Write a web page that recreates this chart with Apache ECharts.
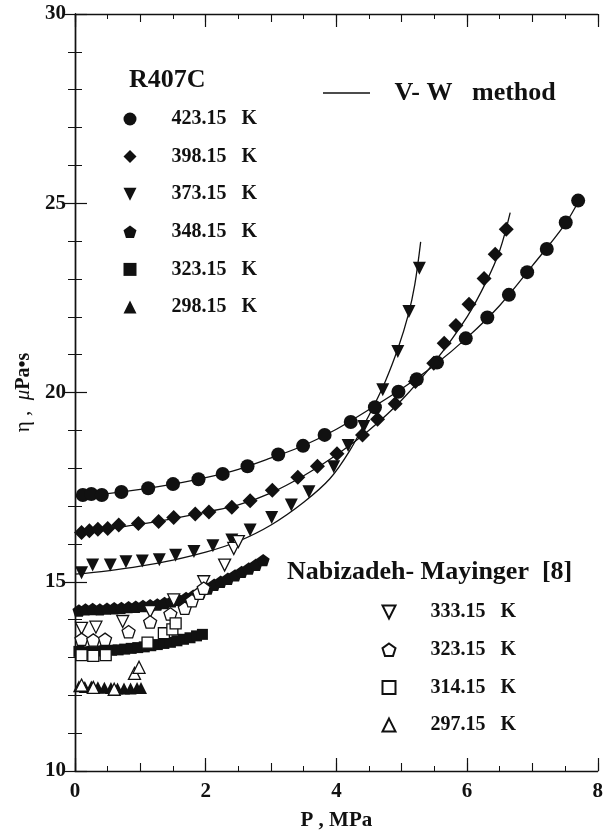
<!DOCTYPE html>
<html>
<head>
<meta charset="utf-8">
<script src="https://cdn.jsdelivr.net/npm/echarts@6/dist/echarts.min.js"></script>
<style>
html, body { margin: 0; padding: 0; background: #fff; }
#chart { width: 606px; height: 837px; }
</style>
</head>
<body>
<div id="chart"></div>
<script>
// Axis ticks
const xTickLabels = [0, 2, 4, 6, 8];
const yTickLabels = [10, 15, 20, 25, 30];

// R407C measurements (P in MPa, viscosity in µPa·s)
const p423 = [0.12, 0.25, 0.41, 0.71, 1.12, 1.50, 1.89, 2.26, 2.64, 3.11, 3.49, 3.82, 4.22, 4.59, 4.95, 5.23, 5.54, 5.98, 6.31, 6.64, 6.92, 7.22, 7.51, 7.70];
const eta423 = [17.29, 17.32, 17.29, 17.37, 17.47, 17.58, 17.71, 17.85, 18.05, 18.36, 18.59, 18.88, 19.22, 19.61, 20.02, 20.35, 20.79, 21.43, 21.98, 22.58, 23.18, 23.79, 24.49, 25.07];

const p398 = [0.10, 0.22, 0.35, 0.50, 0.67, 0.97, 1.28, 1.51, 1.84, 2.05, 2.40, 2.68, 3.02, 3.41, 3.71, 4.01, 4.40, 4.63, 4.90, 5.21, 5.49, 5.65, 5.83, 6.03, 6.26, 6.43, 6.60];
const eta398 = [16.30, 16.35, 16.39, 16.41, 16.50, 16.54, 16.59, 16.70, 16.79, 16.84, 16.97, 17.14, 17.42, 17.76, 18.05, 18.38, 18.88, 19.29, 19.70, 20.29, 20.77, 21.30, 21.77, 22.33, 23.01, 23.65, 24.31];

const p373 = [0.10, 0.27, 0.54, 0.78, 1.03, 1.29, 1.54, 1.82, 2.11, 2.40, 2.68, 3.01, 3.31, 3.58, 3.96, 4.18, 4.42, 4.71, 4.94, 5.11, 5.27];
const eta373 = [15.24, 15.44, 15.44, 15.53, 15.55, 15.58, 15.70, 15.80, 15.95, 16.10, 16.37, 16.70, 17.03, 17.38, 18.04, 18.60, 19.10, 20.07, 21.08, 22.14, 23.28];

const p348 = [0.06, 0.16, 0.27, 0.38, 0.49, 0.60, 0.71, 0.82, 0.93, 1.04, 1.15, 1.26, 1.37, 1.48, 1.59, 1.70, 1.81, 1.92, 2.03, 2.13, 2.23, 2.34, 2.45, 2.55, 2.66, 2.77, 2.88];
const eta348 = [14.24, 14.27, 14.28, 14.27, 14.29, 14.30, 14.31, 14.33, 14.34, 14.36, 14.38, 14.40, 14.44, 14.48, 14.52, 14.57, 14.63, 14.72, 14.82, 14.92, 15.00, 15.08, 15.17, 15.26, 15.35, 15.45, 15.57];

const p323 = [0.06, 0.16, 0.26, 0.36, 0.46, 0.56, 0.66, 0.76, 0.86, 0.96, 1.06, 1.16, 1.26, 1.36, 1.46, 1.56, 1.66, 1.76, 1.86, 1.95];
const eta323 = [13.16, 13.15, 13.16, 13.17, 13.18, 13.19, 13.20, 13.22, 13.24, 13.26, 13.28, 13.31, 13.34, 13.37, 13.40, 13.44, 13.48, 13.52, 13.57, 13.61];

const p298 = [0.06, 0.15, 0.25, 0.35, 0.45, 0.55, 0.65, 0.75, 0.85, 0.95, 1.01];
const eta298 = [12.24, 12.22, 12.23, 12.21, 12.20, 12.19, 12.18, 12.18, 12.18, 12.19, 12.19];

// Nabizadeh–Mayinger [8] data
const pNM333 = [0.10, 0.32, 0.73, 1.15, 1.51, 1.97, 2.29, 2.43, 2.50];
const etaNM333 = [13.77, 13.80, 13.95, 14.21, 14.52, 15.00, 15.44, 15.88, 16.06];

const pNM323 = [0.10, 0.28, 0.46, 0.82, 1.15, 1.46, 1.68, 1.79, 1.90, 1.97];
const etaNM323 = [13.48, 13.46, 13.48, 13.68, 13.94, 14.15, 14.30, 14.50, 14.70, 14.83];

const pNM314 = [0.10, 0.28, 0.47, 1.11, 1.36, 1.49, 1.54];
const etaNM314 = [13.06, 13.04, 13.06, 13.39, 13.64, 13.74, 13.90];

const pNM297 = [0.10, 0.28, 0.60, 0.91, 0.98];
const etaNM297 = [12.27, 12.21, 12.16, 12.58, 12.74];

// V-W method curves
const vwP423 = [0, 0.5, 1.0, 1.5, 2.0, 2.5, 3.0, 3.5, 4.0, 4.5, 5.0, 5.5, 6.0, 6.5, 7.0, 7.5, 7.72];
const vwEta423 = [17.25, 17.33, 17.44, 17.58, 17.75, 17.97, 18.27, 18.60, 19.03, 19.55, 20.10, 20.72, 21.45, 22.30, 23.35, 24.45, 25.10];

const vwP398 = [0, 0.5, 1.0, 1.5, 2.0, 2.5, 3.0, 3.5, 4.0, 4.5, 5.0, 5.5, 6.0, 6.3, 6.5, 6.66];
const vwEta398 = [16.28, 16.40, 16.52, 16.67, 16.84, 17.03, 17.35, 17.80, 18.35, 19.00, 19.80, 20.80, 22.00, 22.95, 23.75, 24.75];

const vwP373 = [0, 0.5, 1.0, 1.5, 2.0, 2.5, 3.0, 3.5, 3.9, 4.2, 4.5, 4.75, 4.95, 5.1, 5.2, 5.29];
const vwEta373 = [15.20, 15.29, 15.41, 15.57, 15.78, 16.07, 16.50, 17.10, 17.72, 18.45, 19.40, 20.30, 21.20, 22.05, 22.85, 23.98];

// Legend names (the second group carries a trailing space so that
// 323.15 K appears once per group)
const tempLabelsR407C = ['423.15   K', '398.15   K', '373.15   K', '348.15   K', '323.15   K', '298.15   K'];
const tempLabelsNM = ['333.15   K ', '323.15   K ', '314.15   K ', '297.15   K '];
const methodLabel = 'V- W   method';

const FONT = '"Liberation Serif", "Times New Roman", serif';
const INK = '#111';
const PENTAGON = 'path://M0,-1 L0.951,-0.309 L0.588,0.809 L-0.588,0.809 L-0.951,-0.309 Z';
const DOWN_TRIANGLE = 'path://M-1,-1 L1,-1 L0,1 Z';

function zip(xs, ys) { return xs.map((x, i) => [x, ys[i]]); }

function filled(name, xs, ys, symbol, size) {
  return {
    name, type: 'scatter', data: zip(xs, ys), symbol, symbolSize: size,
    symbolKeepAspect: true, z: 4,
    itemStyle: { color: INK, opacity: 1 }
  };
}
function open(name, xs, ys, symbol, size) {
  return {
    name, type: 'scatter', data: zip(xs, ys), symbol, symbolSize: size,
    symbolKeepAspect: true, z: 5,
    itemStyle: { color: '#fff', borderColor: INK, borderWidth: 1.3, opacity: 1 }
  };
}
function curve(xs, ys) {
  return {
    name: methodLabel, type: 'line', data: zip(xs, ys), symbol: 'none', showSymbol: false,
    smooth: 0.35, z: 3, lineStyle: { color: INK, width: 1.3 }, itemStyle: { color: INK }
  };
}

const labelFont = { fontFamily: FONT, fontWeight: 'bold', color: INK };
const gap = '      ';

const legendBase = {
  orient: 'vertical', padding: 0, selectedMode: false,
  itemWidth: 13, itemHeight: 13,
  formatter: n => gap + n,
  textStyle: Object.assign({ fontSize: 20, lineHeight: 20 }, labelFont)
};

const option = {
  backgroundColor: '#fff',
  animation: false,
  grid: { left: 75, right: 5, top: 14, bottom: 66 },
  title: [
    { text: 'R407C', left: 129, top: 67, padding: 0,
      textStyle: Object.assign({ fontSize: 26, lineHeight: 26 }, labelFont) },
    { text: 'Nabizadeh- Mayinger  [8]', left: 287, top: 559, padding: 0,
      textStyle: Object.assign({ fontSize: 26, lineHeight: 26 }, labelFont) }
  ],
  legend: [
    Object.assign({}, legendBase, { data: tempLabelsR407C, left: 123.5, top: 109, itemGap: 17.6 }),
    Object.assign({}, legendBase, { data: tempLabelsNM, left: 381.5, top: 602, itemGap: 17.7 }),
    { data: [{ name: methodLabel, icon: 'rect' }], left: 323, top: 80, padding: 0, selectedMode: false,
      itemWidth: 47, itemHeight: 1.4,
      formatter: n => '   ' + n,
      textStyle: Object.assign({ fontSize: 26, lineHeight: 26 }, labelFont) }
  ],
  xAxis: [
    { type: 'value', position: 'bottom', min: xTickLabels[0], max: xTickLabels[xTickLabels.length - 1], interval: 2,
      axisLine: { show: true, lineStyle: { color: INK, width: 1.4 } },
      axisTick: { inside: true, length: 13, lineStyle: { color: INK, width: 1.2 } },
      minorTick: { show: true, splitNumber: 4, length: 5, lineStyle: { color: INK, width: 1 } },
      splitLine: { show: false },
      axisLabel: Object.assign({ fontSize: 21, margin: 10 }, labelFont),
      name: 'P , MPa', nameLocation: 'middle', nameGap: 39,
      nameTextStyle: Object.assign({ fontSize: 21 }, labelFont) },
    { type: 'value', position: 'top', min: 0, max: 8, interval: 2,
      axisLine: { show: true, lineStyle: { color: INK, width: 1.4 } },
      axisTick: { inside: true, length: 13, lineStyle: { color: INK, width: 1.2 } },
      minorTick: { show: true, splitNumber: 4, length: 5, lineStyle: { color: INK, width: 1 } },
      splitLine: { show: false }, axisLabel: { show: false } },
    { type: 'value', position: 'bottom', min: 0, max: 8, interval: 1,
      axisLine: { show: false }, axisLabel: { show: false }, splitLine: { show: false },
      axisTick: { inside: true, length: 8, lineStyle: { color: INK, width: 1.1 } } },
    { type: 'value', position: 'top', min: 0, max: 8, interval: 1,
      axisLine: { show: false }, axisLabel: { show: false }, splitLine: { show: false },
      axisTick: { inside: true, length: 8, lineStyle: { color: INK, width: 1.1 } } }
  ],
  yAxis: [
    { type: 'value', position: 'left', min: yTickLabels[0], max: yTickLabels[yTickLabels.length - 1], interval: 5,
      axisLine: { show: true, lineStyle: { color: INK, width: 1.4 } },
      axisTick: { inside: true, length: 12, lineStyle: { color: INK, width: 1.2 } },
      minorTick: { show: true, splitNumber: 5, length: 7, lineStyle: { color: INK, width: 1 } },
      splitLine: { show: false },
      axisLabel: Object.assign({ fontSize: 21, margin: 9 }, labelFont),
      name: '{a|η ,  }{b|μ}{c|Pa•s}', nameLocation: 'middle', nameGap: 31, nameRotate: 90,
      nameTextStyle: {
        rich: {
          a: { fontFamily: FONT, fontSize: 21, color: INK },
          b: { fontFamily: FONT, fontSize: 21, fontStyle: 'italic', color: INK },
          c: { fontFamily: FONT, fontSize: 20, fontWeight: 'bold', color: INK }
        }
      } },
    { type: 'value', position: 'right', min: 10, max: 30, interval: 5,
      axisLine: { show: true, lineStyle: { color: INK, width: 1.4 } },
      axisTick: { inside: true, length: 12, lineStyle: { color: INK, width: 1.2 } },
      minorTick: { show: true, splitNumber: 5, length: 7, lineStyle: { color: INK, width: 1 } },
      splitLine: { show: false }, axisLabel: { show: false } }
  ],
  series: [
    curve(vwP423, vwEta423),
    curve(vwP398, vwEta398),
    curve(vwP373, vwEta373),
    filled(tempLabelsR407C[0], p423, eta423, 'circle', 14),
    filled(tempLabelsR407C[1], p398, eta398, 'diamond', 15),
    filled(tempLabelsR407C[2], p373, eta373, DOWN_TRIANGLE, 13),
    filled(tempLabelsR407C[3], p348, eta348, PENTAGON, 13),
    filled(tempLabelsR407C[4], p323, eta323, 'rect', 11),
    filled(tempLabelsR407C[5], p298, eta298, 'triangle', 12),
    open(tempLabelsNM[0], pNM333, etaNM333, DOWN_TRIANGLE, 12),
    open(tempLabelsNM[1], pNM323, etaNM323, PENTAGON, 13),
    open(tempLabelsNM[2], pNM314, etaNM314, 'rect', 11),
    open(tempLabelsNM[3], pNM297, etaNM297, 'triangle', 12)
  ]
};

const chart = echarts.init(document.getElementById('chart'), null, { renderer: 'canvas' });
chart.setOption(option);
</script>
</body>
</html>
